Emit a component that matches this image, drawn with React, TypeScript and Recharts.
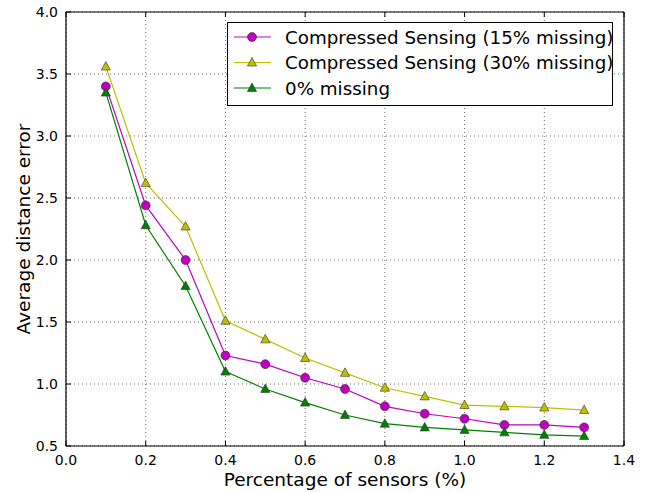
import React from "react";
import { LineChart, Line, XAxis, YAxis, CartesianGrid } from "recharts";

const sensors = [0.1, 0.2, 0.3, 0.4, 0.5, 0.6, 0.7, 0.8, 0.9, 1.0, 1.1, 1.2, 1.3];
const cs15 = [3.4, 2.44, 2.0, 1.23, 1.16, 1.05, 0.96, 0.82, 0.76, 0.72, 0.67, 0.67, 0.65];
const cs30 = [3.56, 2.62, 2.27, 1.51, 1.36, 1.21, 1.09, 0.97, 0.9, 0.83, 0.82, 0.81, 0.79];
const missing0 = [3.35, 2.28, 1.79, 1.1, 0.96, 0.85, 0.75, 0.68, 0.65, 0.63, 0.61, 0.59, 0.58];

const xTicks = [0, 0.2, 0.4, 0.6, 0.8, 1.0, 1.2, 1.4];
const yTicks = [0.5, 1.0, 1.5, 2.0, 2.5, 3.0, 3.5, 4.0];

const data = sensors.map((s, i) => ({ s, cs15: cs15[i], cs30: cs30[i], m0: missing0[i] }));

const MAG = "#bf00bf";
const YEL = "#bfbf00";
const GRN = "#008000";
const FONT = "DejaVu Sans, sans-serif";

const circleDot = (fill: string) => (p: any) => (
  <circle key={p.index} cx={p.cx} cy={p.cy} r={4.5} fill={fill} stroke="#333" strokeWidth={0.6} />
);
const triDot = (fill: string) => (p: any) => (
  <polygon
    key={p.index}
    points={`${p.cx},${p.cy - 5} ${p.cx - 4.6},${p.cy + 3.5} ${p.cx + 4.6},${p.cy + 3.5}`}
    fill={fill}
    stroke="#333"
    strokeWidth={0.6}
  />
);

const fmt = (v: number) => v.toFixed(1);

// ticks point inward like matplotlib's classic style
const bottomTick = (p: any) => (
  <g>
    <line x1={p.x} x2={p.x} y1={p.y} y2={p.y - 5} stroke="#000" />
    <text x={p.x} y={p.y + 19} textAnchor="middle" fontSize={14} fontFamily={FONT} fill="#000">{fmt(p.payload.value)}</text>
  </g>
);
const topTick = (p: any) => <line x1={p.x} x2={p.x} y1={p.y} y2={p.y + 5} stroke="#000" />;
const leftTick = (p: any) => (
  <g>
    <line x1={p.x} x2={p.x + 5} y1={p.y} y2={p.y} stroke="#000" />
    <text x={p.x - 8} y={p.y + 5} textAnchor="end" fontSize={14} fontFamily={FONT} fill="#000">{fmt(p.payload.value)}</text>
  </g>
);
const rightTick = (p: any) => <line x1={p.x} x2={p.x - 5} y1={p.y} y2={p.y} stroke="#000" />;

const xLabel = (p: any) => {
  const vb = p.viewBox;
  return (
    <text x={vb.x + vb.width / 2} y={vb.y + 40} textAnchor="middle" fontSize={18.5} fontFamily={FONT} fill="#000">
      Percentage of sensors (%)
    </text>
  );
};
const yLabel = (p: any) => {
  const vb = p.viewBox;
  const cx = vb.x + 30;
  const cy = vb.y + vb.height / 2;
  return (
    <text x={cx} y={cy} transform={`rotate(-90 ${cx} ${cy})`} textAnchor="middle" fontSize={18.5} fontFamily={FONT} fill="#000">
      Average distance error
    </text>
  );
};

const legendItems = [
  { name: "Compressed Sensing (15% missing)", color: MAG, shape: "circle" },
  { name: "Compressed Sensing (30% missing)", color: YEL, shape: "tri" },
  { name: "0% missing", color: GRN, shape: "tri" },
];

const LegendBox = () => (
  <svg width={386} height={84} style={{ position: "absolute", left: 227, top: 22 }}>
    <rect x={0.5} y={0.5} width={385} height={83} fill="#fff" stroke="#000" strokeWidth={1} />
    {legendItems.map((it, i) => {
      const cy = 15 + i * 25.5;
      return (
        <g key={it.name}>
          <line x1={7} x2={44} y1={cy} y2={cy} stroke={it.color} strokeWidth={1.2} />
          {it.shape === "circle" ? (
            <circle cx={25} cy={cy} r={4.5} fill={it.color} stroke="#333" strokeWidth={0.6} />
          ) : (
            <polygon points={`25,${cy - 5} 20.4,${cy + 3.5} 29.6,${cy + 3.5}`} fill={it.color} stroke="#333" strokeWidth={0.6} />
          )}
          <text x={58} y={cy + 6.5} fontSize={18.3} fontFamily={FONT} fill="#000">{it.name}</text>
        </g>
      );
    })}
  </svg>
);

export default function App() {
  return (
    <div style={{ position: "absolute", left: 0, top: 0, width: 653, height: 492, background: "#fff" }}>
      <LineChart width={653} height={492} data={data} margin={{ top: 0, right: 0, left: 0, bottom: 0 }}>
        <CartesianGrid
          xAxisId="b"
          yAxisId="l"
          stroke="#444"
          strokeDasharray="1 3"
          strokeWidth={0.8}
        />
        <XAxis
          xAxisId="b"
          dataKey="s"
          type="number"
          domain={[0, 1.4]}
          ticks={xTicks}
          height={46}
          tickSize={0}
          tickMargin={0}
          tickLine={false}
          axisLine={{ stroke: "#000", strokeWidth: 1.2 }}
          tick={bottomTick}
          label={xLabel}
        />
        <XAxis
          xAxisId="t"
          orientation="top"
          dataKey="s"
          type="number"
          domain={[0, 1.4]}
          ticks={xTicks}
          height={12}
          tickSize={0}
          tickMargin={0}
          tickLine={false}
          axisLine={{ stroke: "#000", strokeWidth: 1.2 }}
          tick={topTick}
        />
        <YAxis
          yAxisId="l"
          type="number"
          domain={[0.5, 4.0]}
          ticks={yTicks}
          width={66}
          tickSize={0}
          tickMargin={0}
          tickLine={false}
          axisLine={{ stroke: "#000", strokeWidth: 1.2 }}
          tick={leftTick}
          label={yLabel}
        />
        <YAxis
          yAxisId="r"
          orientation="right"
          type="number"
          domain={[0.5, 4.0]}
          ticks={yTicks}
          width={29}
          tickSize={0}
          tickMargin={0}
          tickLine={false}
          axisLine={{ stroke: "#000", strokeWidth: 1.2 }}
          tick={rightTick}
        />
        <Line xAxisId="b" yAxisId="l" dataKey="cs15" name="Compressed Sensing (15% missing)" stroke={MAG} strokeWidth={1.2} dot={circleDot(MAG)} isAnimationActive={false} />
        <Line xAxisId="b" yAxisId="l" dataKey="cs30" name="Compressed Sensing (30% missing)" stroke={YEL} strokeWidth={1.2} dot={triDot(YEL)} isAnimationActive={false} />
        <Line xAxisId="b" yAxisId="l" dataKey="m0" name="0% missing" stroke={GRN} strokeWidth={1.2} dot={triDot(GRN)} isAnimationActive={false} />
      </LineChart>
      <LegendBox />
    </div>
  );
}
